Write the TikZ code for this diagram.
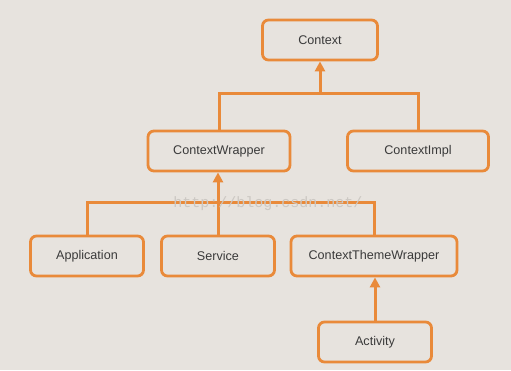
\documentclass[tikz,border=0pt]{standalone}
\usepackage{fontspec}
\setmainfont{Liberation Sans}
\newfontfamily\markfont{Liberation Mono}
\usetikzlibrary{positioning,arrows.meta}
\definecolor{bgcol}{HTML}{E7E3DE}
\definecolor{edgecol}{HTML}{E98A3A}
\definecolor{txtcol}{HTML}{3A3A3A}
\definecolor{markcol}{HTML}{CCC8C3}

\begin{document}
\begin{tikzpicture}[
  x=1pt,y=-1pt,
  font=\fontsize{12.6}{14}\selectfont,
  box/.style={draw=edgecol,line width=2.8pt,rounded corners=6pt,fill=bgcol,text=txtcol,minimum height=40pt,minimum width=113pt,align=center},
  link/.style={draw=edgecol,line width=3pt},
  >={Triangle[length=10pt,width=10pt]}
]
\fill[bgcol] (0,0) rectangle (511,370);
\useasboundingbox (0,0) rectangle (511,370);
% ---- top ----
\node[box,minimum width=115pt] (ctx) at (320,40) {Context};
\node[box,minimum width=142pt] (cw) at (219,151) {ContextWrapper};
\node[box,minimum width=141pt] (impl) at (418,151) {ContextImpl};
\coordinate (j1) at (320,93);
\draw[link] (cw.north) |- (j1) -| (impl.north);
\draw[link,->] (j1) -- (ctx.south);
% ---- bottom ----
\node[box] (app) at (87,256) {Application};
\node[box] (svc) at (218,256) {Service};
\node[box,minimum width=166pt] (ctw) at (374,256) {ContextThemeWrapper};
\node[box] (act) at (375,342) {Activity};
\coordinate (j2) at (220,202);
\draw[link] (app.north) |- (j2) -| (ctw.north);
\draw[link,->] (svc.north) -- (svc.north |- cw.south);
\draw[link,->] (act.north) -- (act.north |- ctw.south);
% watermark
\node[font=\markfont\fontsize{15}{15}\selectfont,text=markcol] (mark) at (268,204) {http://blog.csdn.net/};
\end{tikzpicture}
\end{document}
